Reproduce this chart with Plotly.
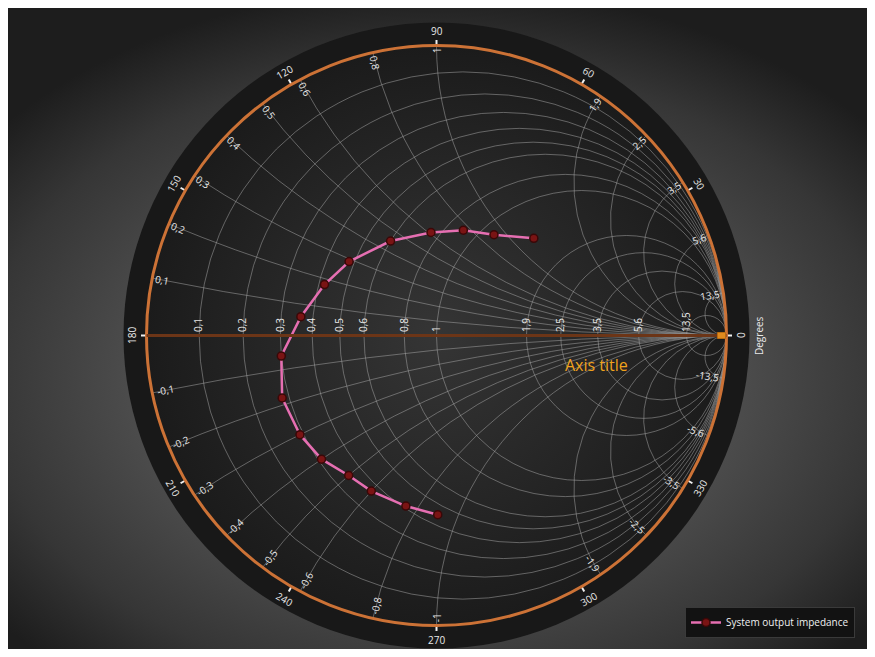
import math
import base64
import plotly.graph_objects as go

# ---------------- data ----------------
series_name = "System output impedance"
real_vals = [0.45, 0.41, 0.37, 0.35, 0.31, 0.29, 0.28, 0.30, 0.36, 0.42, 0.48, 0.60, 0.75, 0.90, 1.10, 1.40]
imag_vals = [-0.90, -0.75, -0.60, -0.50, -0.40, -0.30, -0.18, -0.06, 0.06, 0.18, 0.29, 0.45, 0.61, 0.76, 0.91, 1.21]

real_ticks = [0.1, 0.2, 0.3, 0.4, 0.5, 0.6, 0.8, 1, 1.9, 2.5, 3.5, 5.6, 13.5]
imag_ticks = [-13.5, -5.6, -3.5, -2.5, -1.9, -1, -0.8, -0.6, -0.5, -0.4, -0.3, -0.2, -0.1,
              0.1, 0.2, 0.3, 0.4, 0.5, 0.6, 0.8, 1, 1.9, 2.5, 3.5, 5.6, 13.5]
degree_ticks = [0, 30, 60, 90, 120, 150, 180, 210, 240, 270, 300, 330]
axis_title = "Axis title"
degree_title = "Degrees"

# ---------------- geometry ----------------
W, H = 859, 641
CX, CY, R = 428.5, 327.5, 290.0
dom_x = [(CX - R) / W, (CX + R) / W]
dom_y = [(H - CY - R) / H, (H - CY + R) / H]


def px(x):
    return x / W


def py(y):
    return 1 - y / H


def fmt(v):
    return f"{v:g}".replace(".", ",")


FONT = "Open Sans"

# background picture (gradients)
svg = f'''<svg xmlns="http://www.w3.org/2000/svg" width="{W}" height="{H}" viewBox="0 0 {W} {H}">
<defs>
<radialGradient id="bg" cx="{CX}" cy="{CY+40}" r="390" gradientUnits="userSpaceOnUse"
 gradientTransform="translate({CX},{CY+40}) scale(1.45,1) translate({-CX},{-(CY+40)})">
<stop offset="0" stop-color="#5e5e5e"/>
<stop offset="0.55" stop-color="#4b4b4b"/>
<stop offset="0.8" stop-color="#363636"/>
<stop offset="1" stop-color="#1d1d1d"/>
</radialGradient>
<radialGradient id="disk" cx="{CX}" cy="{CY}" r="{R}" gradientUnits="userSpaceOnUse">
<stop offset="0" stop-color="#353535"/>
<stop offset="1" stop-color="#1b1b1b"/>
</radialGradient>
</defs>
<rect x="0" y="0" width="{W}" height="{H}" fill="url(#bg)"/>
<circle cx="{CX}" cy="{CY}" r="{R+23}" fill="#181818"/>
<circle cx="{CX}" cy="{CY}" r="{R}" fill="url(#disk)"/>
</svg>'''
bg_uri = "data:image/svg+xml;base64," + base64.b64encode(svg.encode()).decode()

fig = go.Figure()

fig.add_trace(go.Scattersmith(
    real=real_vals, imag=imag_vals, mode="lines+markers", name=series_name,
    line=dict(color="#e66fb2", width=2.5),
    marker=dict(size=8, color="#7a1414", line=dict(color="#3a0808", width=1.5)),
))

# polar subplot only for degree tick marks
fig.add_trace(go.Scatterpolar(r=[0], theta=[0], mode="markers", marker=dict(opacity=0),
                              showlegend=False, hoverinfo="skip"))

annotations = []
# imaginary axis labels inside the circle
for v in imag_ticks:
    th = math.degrees(math.atan2(2 * v, v * v - 1))
    txt = fmt(v)
    w = len(txt) * 5.3
    r = R - 2.5 - w / 2
    c = math.cos(math.radians(th))
    if abs(c) < 1e-9:
        ang = -90
    elif c > 0:
        ang = -th
    else:
        ang = 180 - th
        if ang > 180:
            ang -= 360
    annotations.append(dict(
        x=px(CX + r * math.cos(math.radians(th))), y=py(CY - r * math.sin(math.radians(th))),
        xref="paper", yref="paper", text=txt, showarrow=False, textangle=ang,
        xanchor="center", yanchor="middle", font=dict(family=FONT, size=10, color="#e8e8e8")))

# degree labels outside the circle
for d in degree_ticks:
    r = R + 14
    ang = ((90 - d + 90) % 180) - 90
    annotations.append(dict(
        x=px(CX + r * math.cos(math.radians(d))), y=py(CY - r * math.sin(math.radians(d))),
        xref="paper", yref="paper", text=str(d), showarrow=False, textangle=ang,
        xanchor="center", yanchor="middle", font=dict(family=FONT, size=10, color="#e8e8e8")))

annotations.append(dict(x=px(CX + R + 32), y=py(CY), xref="paper", yref="paper", text=degree_title,
                        showarrow=False, textangle=-90, xanchor="center", yanchor="middle",
                        font=dict(family=FONT, size=10, color="#e8e8e8")))
annotations.append(dict(x=px(588), y=py(357), xref="paper", yref="paper", text=axis_title,
                        showarrow=False, xanchor="center", yanchor="middle",
                        font=dict(family=FONT, size=16, color="#f0a21c")))

shapes = [dict(type="rect", xref="paper", yref="paper",
               x0=px(CX + R - 9), x1=px(CX + R - 1), y0=py(CY - 3), y1=py(CY + 3),
               fillcolor="#e08a1e", line=dict(color="#b86a10", width=1), layer="above")]

grid = "rgba(170,170,170,0.5)"
fig.update_layout(
    width=W, height=H,
    margin=dict(l=0, r=0, t=0, b=0),
    paper_bgcolor="#1e1e1e",
    separators=",.",
    font=dict(family=FONT, color="#e8e8e8"),
    images=[dict(source=bg_uri, xref="paper", yref="paper", x=0, y=1, sizex=1, sizey=1,
                 xanchor="left", yanchor="top", sizing="stretch", layer="below")],
    smith=dict(
        domain=dict(x=dom_x, y=dom_y),
        bgcolor="rgba(0,0,0,0)",
        realaxis=dict(tickvals=real_ticks, side="top", tickangle=-90, ticks="",
                      showgrid=True, gridcolor=grid, gridwidth=1,
                      showline=True, linecolor="#6c3517", linewidth=3,
                      tickfont=dict(family=FONT, size=10, color="#e8e8e8")),
        imaginaryaxis=dict(tickvals=imag_ticks, showticklabels=False, ticks="",
                           showgrid=True, gridcolor=grid, gridwidth=1,
                           showline=True, linecolor="#cc7236", linewidth=3),
    ),
    polar=dict(
        domain=dict(x=dom_x, y=dom_y),
        bgcolor="rgba(0,0,0,0)",
        radialaxis=dict(visible=False, range=[0, 1]),
        angularaxis=dict(rotation=0, direction="counterclockwise", tickvals=degree_ticks,
                         showticklabels=False, showgrid=False, showline=False,
                         ticks="outside", ticklen=5, tickwidth=2, tickcolor="#f0f0f0"),
    ),
    showlegend=True,
    legend=dict(x=px(847), y=py(630), xanchor="right", yanchor="bottom",
                bgcolor="#121212", bordercolor="#3a3a3a", borderwidth=1, itemwidth=30,
                font=dict(family=FONT, size=10, color="#f0f0f0")),
    annotations=annotations,
    shapes=shapes,
)

fig.write_html("out.html")
